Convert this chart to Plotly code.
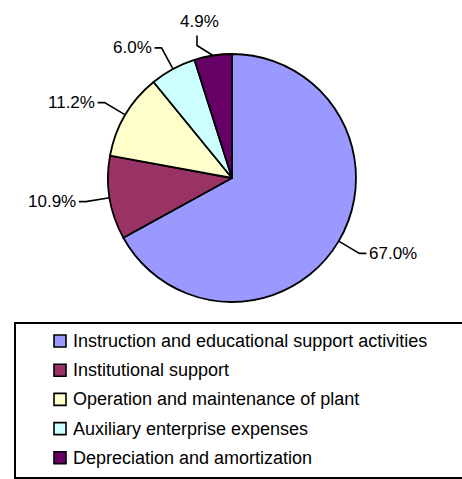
import math
import plotly.graph_objects as go

# Expense categories and their shares of total (%)
categories = [
    "Instruction and educational support activities",
    "Institutional support",
    "Operation and maintenance of plant",
    "Auxiliary enterprise expenses",
    "Depreciation and amortization",
]
shares = [67.0, 10.9, 11.2, 6.0, 4.9]
colors = ["#9999FF", "#993366", "#FFFFCC", "#CCFFFF", "#660066"]

W, H = 462, 479
FONT = "Liberation Sans, Arial, sans-serif"

# pie geometry in pixels
CX, CY, R = 232, 178, 124


def px(x):
    return x / W


def py(y):
    return 1 - y / H


fig = go.Figure()
fig.add_trace(go.Pie(
    labels=categories,
    values=shares,
    sort=False,
    direction="clockwise",
    rotation=0,
    marker=dict(colors=colors, line=dict(color="black", width=1.8)),
    textinfo="none",
    hoverinfo="label+percent",
    showlegend=False,
    domain=dict(x=[px(CX - R), px(CX + R)], y=[py(CY + R), py(CY - R)]),
))

shapes = []
annotations = []

# leader lines and percentage labels, placed from each slice's mid-angle
total = sum(shares)
cum = 0.0
for val in shares:
    mid = (cum + val / 2) / total
    cum += val
    th = 2 * math.pi * mid
    ux, uy = math.sin(th), -math.cos(th)
    ex, ey = CX + R * ux, CY + R * uy
    if abs(ux) < 0.3:
        # near the top/bottom: short diagonal, then a vertical tail
        sx = 1 if ux > 0 else -1
        sy = -1 if uy < 0 else 1
        bx, by = ex + sx * 16, ey + sy * 10
        tx, ty = bx, by + sy * 10
        ann = dict(x=px(tx + 3), y=py(ty + sy * 2), xanchor="center",
                   yanchor="bottom" if sy < 0 else "top")
    else:
        bx, by = CX + (R + 24) * ux, CY + (R + 24) * uy
        side = 1 if ux > 0 else -1
        tx, ty = bx + side * 7, by
        ann = dict(x=px(tx + side * 1), y=py(ty), xanchor="left" if side > 0 else "right",
                   yanchor="middle")
    shapes.append(dict(type="path", xref="paper", yref="paper",
                       path=f"M{px(ex)},{py(ey)} L{px(bx)},{py(by)} L{px(tx)},{py(ty)}",
                       line=dict(color="black", width=1.6)))
    annotations.append(dict(text=f"{val:.1f}%", xref="paper", yref="paper",
                            showarrow=False, font=dict(family=FONT, size=17, color="black"),
                            **ann))

# legend box
shapes.append(dict(type="rect", xref="paper", yref="paper",
                   x0=px(15), x1=px(475), y0=py(478), y1=py(323),
                   line=dict(color="black", width=2), fillcolor="rgba(0,0,0,0)"))

# legend entries
for i, (name, col) in enumerate(zip(categories, colors)):
    yc = 341 + i * 29.2
    shapes.append(dict(type="rect", xref="paper", yref="paper",
                       x0=px(54), x1=px(66), y0=py(yc + 6), y1=py(yc - 6),
                       fillcolor=col, line=dict(color="black", width=1.6)))
    annotations.append(dict(text=name, xref="paper", yref="paper", showarrow=False,
                            x=px(71), y=py(yc), xanchor="left", yanchor="middle",
                            font=dict(family=FONT, size=18, color="black")))

fig.update_layout(
    width=W, height=H,
    margin=dict(l=0, r=0, t=0, b=0),
    paper_bgcolor="white",
    plot_bgcolor="white",
    shapes=shapes,
    annotations=annotations,
    showlegend=False,
)

fig.write_html("out.html")
